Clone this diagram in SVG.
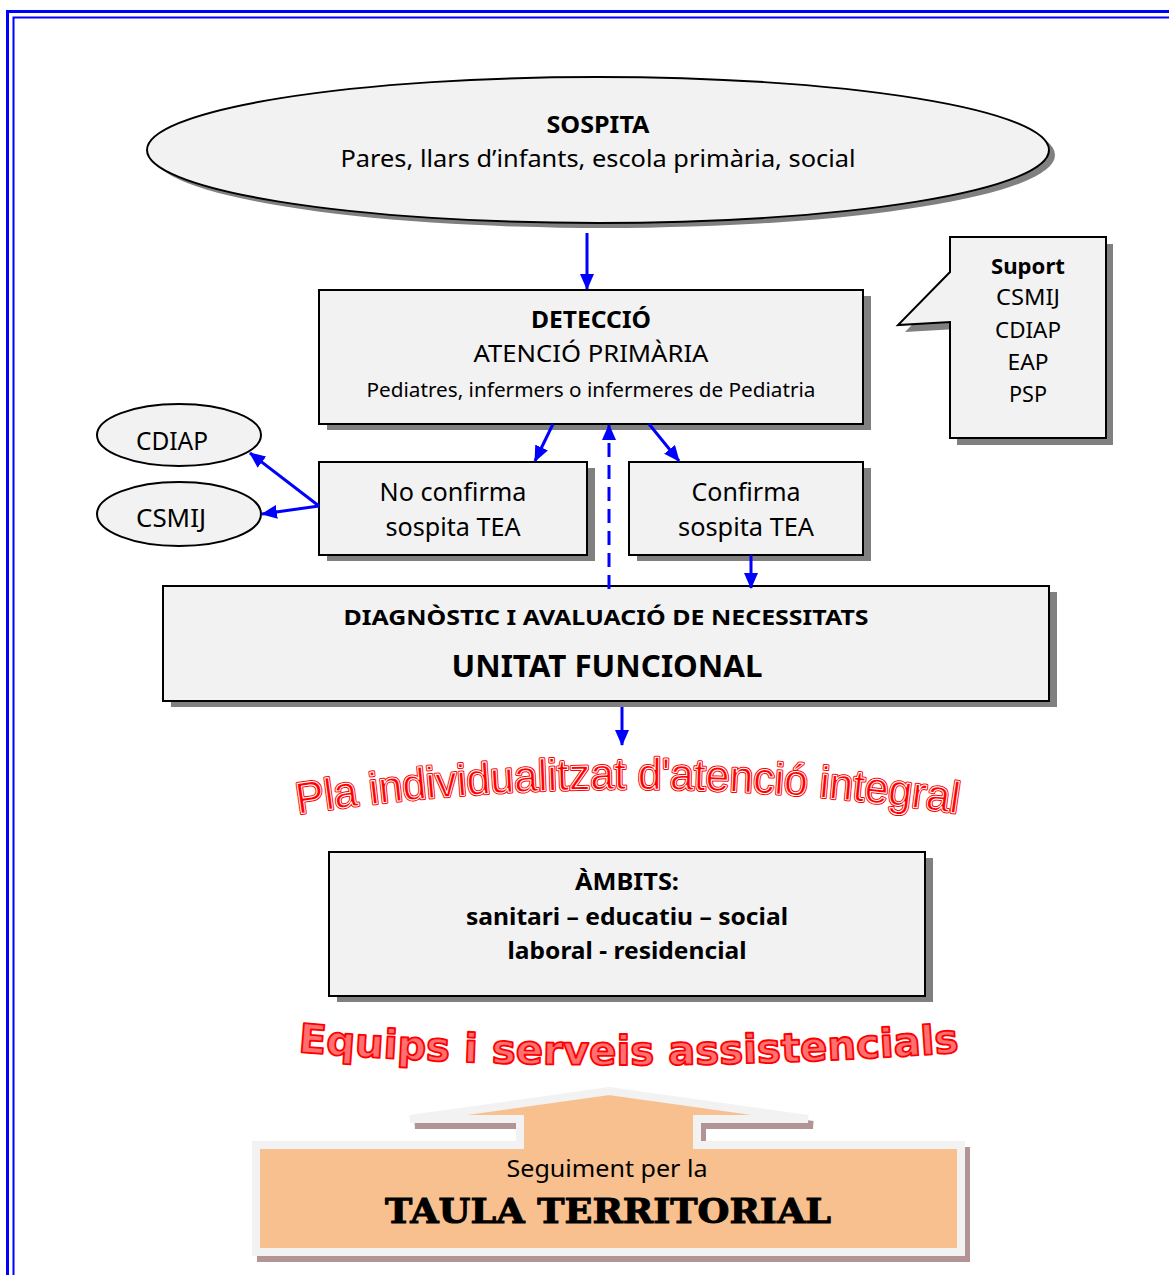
<svg xmlns="http://www.w3.org/2000/svg" width="1169" height="1275" viewBox="0 0 1169 1275">
<style>
.box{fill:#f2f2f2;stroke:#000;stroke-width:2}
.sh{fill:#808080}
.t{font-family:"Noto Sans","Open Sans","Liberation Sans",sans-serif;fill:#000;text-anchor:middle}
.b{font-weight:bold}
.ar{stroke:#0000ff;stroke-width:3;fill:none;marker-end:url(#ah)}
</style>
<defs>
<marker id="ah" markerUnits="userSpaceOnUse" markerWidth="16" markerHeight="14" refX="15" refY="7" orient="auto">
<path d="M0,0 L16,7 L0,14 Z" fill="#0000ff"/>
</marker>
<path id="arc1" d="M298,814 Q628,764 962,814"/>
<path id="arc2" d="M298,1052 Q620,1078 962,1052"/>
<path id="taula" d="M256,1145 H520 V1119 H410 L609,1091 L808,1119 H697 V1145 H961 V1252 H256 Z"/>
</defs>
<rect width="1169" height="1275" fill="#fff"/>
<g id="border" fill="none" stroke="#0000ff">
<path d="M7.5,1275 V11.5 H1169" stroke-width="3"/>
<path d="M13.5,1275 V17.5 H1169" stroke-width="2"/>
</g>

<g id="sospita">
<ellipse cx="604" cy="155" rx="451" ry="73" fill="#808080"/>
<ellipse cx="598" cy="150" rx="451" ry="73" class="box"/>
<text class="t b" x="598" y="133" font-size="23" textLength="103" lengthAdjust="spacingAndGlyphs">SOSPITA</text>
<text class="t" x="598" y="167" font-size="23" textLength="515" lengthAdjust="spacingAndGlyphs">Pares, llars d’infants, escola primària, social</text>
</g>

<g id="deteccio">
<rect x="327" y="296" width="544" height="134" class="sh"/>
<rect x="319" y="290" width="544" height="134" class="box"/>
<text class="t b" x="591" y="328" font-size="23" textLength="120" lengthAdjust="spacingAndGlyphs">DETECCIÓ</text>
<text class="t" x="591" y="362" font-size="24" textLength="235" lengthAdjust="spacingAndGlyphs">ATENCIÓ PRIMÀRIA</text>
<text class="t" x="591" y="397" font-size="19" textLength="449" lengthAdjust="spacingAndGlyphs">Pediatres, infermers o infermeres de Pediatria</text>
</g>

<g id="suport">
<path d="M957,244 H1113 V445 H957 V329 L905,332 L957,279 Z" class="sh"/>
<path d="M950,237 H1106 V438 H950 V322 L898,325 L950,272 Z" class="box"/>
<text class="t b" x="1028" y="274" font-size="22" textLength="74" lengthAdjust="spacingAndGlyphs">Suport</text>
<text class="t" x="1028" y="305" font-size="22" textLength="64" lengthAdjust="spacingAndGlyphs">CSMIJ</text>
<text class="t" x="1028" y="338" font-size="22" textLength="66" lengthAdjust="spacingAndGlyphs">CDIAP</text>
<text class="t" x="1028" y="370" font-size="22" textLength="41" lengthAdjust="spacingAndGlyphs">EAP</text>
<text class="t" x="1028" y="402" font-size="22" textLength="38" lengthAdjust="spacingAndGlyphs">PSP</text>
</g>

<g id="cdiap">
<ellipse cx="179" cy="435" rx="82" ry="31" class="box"/>
<text class="t" x="172" y="450" font-size="26" textLength="72" lengthAdjust="spacingAndGlyphs">CDIAP</text>
</g>
<g id="csmij">
<ellipse cx="179" cy="514" rx="82" ry="32" class="box"/>
<text class="t" x="171" y="527" font-size="26" textLength="70" lengthAdjust="spacingAndGlyphs">CSMIJ</text>
</g>

<g id="noconfirma">
<rect x="327" y="468" width="268" height="93" class="sh"/>
<rect x="319" y="462" width="268" height="93" class="box"/>
<text class="t" x="453" y="501" font-size="26" textLength="147" lengthAdjust="spacingAndGlyphs">No confirma</text>
<text class="t" x="453" y="536" font-size="26" textLength="135" lengthAdjust="spacingAndGlyphs">sospita TEA</text>
</g>

<g id="confirma">
<rect x="637" y="468" width="234" height="93" class="sh"/>
<rect x="629" y="462" width="234" height="93" class="box"/>
<text class="t" x="746" y="501" font-size="26" textLength="109" lengthAdjust="spacingAndGlyphs">Confirma</text>
<text class="t" x="746" y="536" font-size="26" textLength="136" lengthAdjust="spacingAndGlyphs">sospita TEA</text>
</g>

<g id="diagnostic">
<rect x="171" y="592" width="886" height="115" class="sh"/>
<rect x="163" y="586" width="886" height="115" class="box"/>
<text class="t b" x="606" y="625" font-size="22" textLength="525" lengthAdjust="spacingAndGlyphs">DIAGNÒSTIC I AVALUACIÓ DE NECESSITATS</text>
<text class="t b" x="607" y="677" font-size="30" textLength="311" lengthAdjust="spacingAndGlyphs">UNITAT FUNCIONAL</text>
</g>

<g id="pla">
<text font-family="'Liberation Sans',Arial,sans-serif" font-size="44" fill="#ff0000" stroke="#ff0000" stroke-width="3" stroke-linejoin="round"><textPath href="#arc1" textLength="662" lengthAdjust="spacingAndGlyphs">Pla individualitzat d'atenció integral</textPath></text>
<text font-family="'Liberation Sans',Arial,sans-serif" font-size="44" fill="#ff0000" stroke="#ffffff" stroke-width="1" stroke-linejoin="round"><textPath href="#arc1" textLength="662" lengthAdjust="spacingAndGlyphs">Pla individualitzat d'atenció integral</textPath></text>
</g>

<g id="ambits">
<rect x="337" y="858" width="596" height="144" class="sh"/>
<rect x="329" y="852" width="596" height="144" class="box"/>
<text class="t b" x="627" y="890" font-size="23" textLength="104" lengthAdjust="spacingAndGlyphs">ÀMBITS:</text>
<text class="t b" x="627" y="925" font-size="23" textLength="322" lengthAdjust="spacingAndGlyphs">sanitari – educatiu – social</text>
<text class="t b" x="627" y="959" font-size="23" textLength="239" lengthAdjust="spacingAndGlyphs">laboral - residencial</text>
</g>

<g id="equips">
<text font-family="'DejaVu Sans',Verdana,sans-serif" font-weight="bold" font-size="40" fill="#ff7070" stroke="#ff0000" stroke-width="1.8" stroke-linejoin="round"><textPath href="#arc2" textLength="662" lengthAdjust="spacingAndGlyphs">Equips i serveis assistencials</textPath></text>
</g>

<g id="taula-territorial">
<use href="#taula" transform="translate(5,6)" fill="#b39494" stroke="#b39494" stroke-width="8"/>
<use href="#taula" fill="#f8c08f" stroke="#f2f2f2" stroke-width="8"/>
<text class="t" x="607" y="1177" font-size="23" textLength="201" lengthAdjust="spacingAndGlyphs">Seguiment per la</text>
<text x="608" y="1223" font-family="'DejaVu Serif','Liberation Serif',serif" font-weight="bold" font-size="34" text-anchor="middle" fill="#000" stroke="#000" stroke-width="1" textLength="446" lengthAdjust="spacingAndGlyphs">TAULA TERRITORIAL</text>
</g>

<g id="connectors">
<line x1="587" y1="233" x2="587" y2="289" class="ar"/>
<line x1="553" y1="424" x2="535" y2="461" class="ar"/>
<line x1="649" y1="424" x2="679" y2="461" class="ar"/>
<line x1="609" y1="589" x2="609" y2="425" class="ar" stroke-dasharray="14 8"/>
<line x1="751" y1="555" x2="751" y2="588" class="ar"/>
<line x1="319" y1="506" x2="250" y2="453" class="ar"/>
<line x1="319" y1="506" x2="262" y2="514" class="ar"/>
<line x1="622" y1="707" x2="622" y2="745" class="ar"/>
</g>
</svg>
